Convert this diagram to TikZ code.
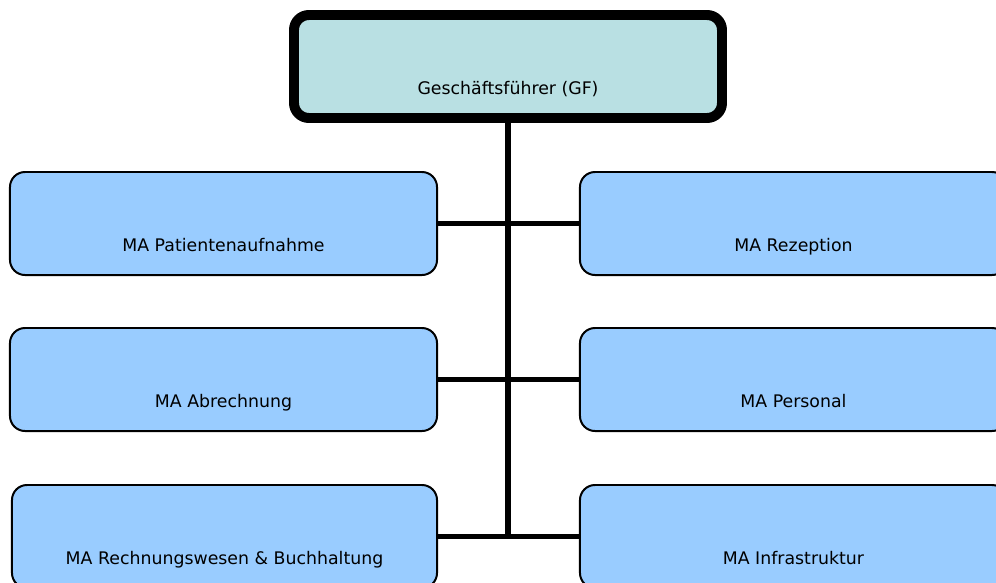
\documentclass[tikz,border=0pt]{standalone}
\usepackage{fontspec}
\setmainfont{DejaVu Sans}
\usetikzlibrary{positioning}
\definecolor{gfcol}{HTML}{B9E0E3}
\definecolor{macol}{HTML}{99CCFF}

\begin{document}
\begin{tikzpicture}[x=0.03cm,y=-0.03cm,
  mabox/.style={draw,fill=macol,line width=1.7pt,rounded corners=0.45cm,inner sep=0pt,
    minimum width=12.81cm,minimum height=3.09cm,text height=2.37cm,text depth=0.72cm,
    font=\fontsize{14.8}{17}\selectfont},
  gfbox/.style={mabox,fill=gfcol,line width=8.5pt,minimum width=12.84cm},
  link/.style={line width=5.1pt}]
\useasboundingbox (0,0) rectangle (996,583);
\clip (0,0) rectangle (996,583);
\node (gf) at (508,66.5) [gfbox] {Geschäftsführer (GF)};
\node (pa) at (223.5,223.5) [mabox] {MA Patientenaufnahme};
\node (ab) at (223.5,379.5) [mabox] {MA Abrechnung};
\node (rb) at (224.5,536.5) [mabox,minimum width=12.75cm] {MA Rechnungswesen \& Buchhaltung};
\node (re) at (793.5,223.5) [mabox] {MA Rezeption};
\node (pe) at (793.5,379.5) [mabox] {MA Personal};
\node (in) at (793.5,536.5) [mabox] {MA Infrastruktur};
\coordinate (end) at (508,536.5);
\draw[link] (gf.south)--(end);
\draw[link] (pa.east)--(re.west);
\draw[link] (ab.east)--(pe.west);
\draw[link] (rb.east)--(in.west);
\end{tikzpicture}
\end{document}
